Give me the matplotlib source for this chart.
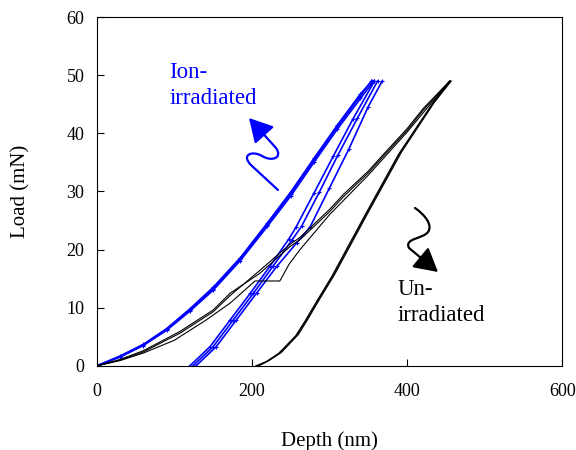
import matplotlib
matplotlib.use("Agg")
import matplotlib.pyplot as plt
from matplotlib.path import Path
from matplotlib.patches import FancyArrowPatch

plt.rcParams['font.family'] = ['Liberation Serif', 'DejaVu Serif']

# Ion-irradiated runs (depth in nm, load in mN)
ion_load_depth_1 = [0, 30, 60, 90, 120, 150, 185, 220, 250, 280, 310, 340, 354]
ion_load_1 = [0, 1.6, 3.6, 6.3, 9.6, 13.3, 18.4, 24.3, 29.6, 35.4, 41.1, 46.5, 49.0]
ion_load_depth_2 = [0, 30, 60, 90, 120, 150, 185, 220, 250, 280, 310, 340, 357]
ion_load_2 = [0, 1.5, 3.5, 6.1, 9.4, 13.0, 18.1, 24.0, 29.2, 35.0, 40.7, 46.0, 49.0]
ion_load_depth_3 = [0, 30, 60, 90, 120, 150, 185, 220, 250, 280, 310, 340, 355]
ion_load_3 = [0, 1.7, 3.7, 6.4, 9.8, 13.5, 18.6, 24.6, 29.9, 35.7, 41.4, 46.8, 49.0]

ion_unload_depth_1 = [358, 330, 305, 280, 257, 248, 223, 198, 172, 146, 120]
ion_unload_1 = [49, 42.4, 36.1, 29.7, 23.9, 21.9, 17.1, 12.5, 7.9, 3.3, 0]
ion_unload_depth_2 = [368, 350, 325, 300, 275, 258, 232, 206, 180, 154, 128]
ion_unload_2 = [49, 44.6, 37.3, 30.6, 23.9, 21.2, 17.1, 12.5, 7.9, 3.3, 0]
ion_unload_depth_3 = [362, 336, 311, 287, 264, 252, 227, 202, 176, 150, 124]
ion_unload_3 = [49, 42.6, 36.3, 29.9, 24.0, 21.7, 17.1, 12.5, 7.9, 3.3, 0]

# Un-irradiated runs
un_load_depth_1 = [0, 30, 60, 107, 150, 172, 210, 249, 262, 300, 318, 350, 369, 400, 421, 455]
un_load_1 = [0, 1.1, 2.6, 5.9, 9.6, 12.5, 15.9, 20.5, 21.7, 26.5, 29.1, 33.2, 36.0, 40.5, 44.0, 49.0]
un_load_depth_2 = [0, 30, 60, 100, 140, 172, 204, 236, 248, 262, 300, 350, 400, 455]
un_load_2 = [0, 0.9, 2.2, 4.4, 7.8, 10.8, 14.6, 14.6, 17.5, 20.0, 26.0, 32.8, 40.2, 49.0]
un_load_depth_3 = [0, 30, 60, 107, 150, 172, 210, 249, 262, 300, 318, 350, 369, 400, 421, 455]
un_load_3 = [0, 1.0, 2.4, 5.6, 9.3, 12.1, 16.4, 20.9, 22.1, 26.9, 29.5, 33.5, 36.3, 40.8, 44.3, 49.0]

un_unload_depth_1 = [456, 434, 391, 348, 305, 285, 270, 258, 236, 220, 207]
un_unload_1 = [49, 45.2, 36.6, 26.2, 15.6, 11.2, 7.8, 5.3, 2.2, 0.8, 0]
un_unload_depth_2 = [455, 432, 389, 346, 303, 283, 268, 256, 234, 218, 205]
un_unload_2 = [49, 45.0, 36.4, 26.0, 15.4, 11.0, 7.6, 5.1, 2.1, 0.7, 0]
un_unload_depth_3 = [457, 435, 393, 350, 307, 287, 272, 260, 238, 222, 209]
un_unload_3 = [49, 45.3, 36.8, 26.4, 15.8, 11.4, 8.0, 5.4, 2.3, 0.9, 0]

fig = plt.figure(figsize=(5.76, 4.5), dpi=100)
ax = fig.add_axes([0.168, 0.187, 0.808, 0.775])

blue = '#0000ff'
for d, p in [(ion_load_depth_1, ion_load_1), (ion_load_depth_2, ion_load_2),
             (ion_load_depth_3, ion_load_3), (ion_unload_depth_1, ion_unload_1),
             (ion_unload_depth_2, ion_unload_2), (ion_unload_depth_3, ion_unload_3)]:
    ax.plot(d, p, color=blue, lw=1.2, marker='+', ms=2.5, mew=0.8)

for d, p in [(un_load_depth_1, un_load_1), (un_load_depth_2, un_load_2),
             (un_load_depth_3, un_load_3), (un_unload_depth_1, un_unload_1),
             (un_unload_depth_2, un_unload_2), (un_unload_depth_3, un_unload_3)]:
    ax.plot(d, p, color='black', lw=0.8)

ax.set_xlim(0, 600)
ax.set_ylim(0, 60)
ax.set_xticks([0, 200, 400, 600])
ax.set_yticks([0, 10, 20, 30, 40, 50, 60])
ax.tick_params(direction='in', length=5, labelsize=13)
ax.tick_params(axis='x', pad=12)
ax.tick_params(axis='y', pad=9)
ax.set_xlabel('Depth (nm)', fontsize=15, labelpad=23)
ax.set_ylabel('Load (mN)', fontsize=15, labelpad=26)

ax.text(0.156, 0.871, 'Ion-\nirradiated', transform=ax.transAxes, color=blue,
        fontsize=16.5, va='top', ha='left', linespacing=1.3)
ax.text(0.646, 0.248, 'Un-\nirradiated', transform=ax.transAxes, color='black',
        fontsize=16.5, va='top', ha='left', linespacing=1.3)

# squiggly arrows, drawn in figure pixel positions (y measured from the top)
def px(x, y):
    return (x / 100.0, (450 - y) / 100.0)

blue_path = Path([px(278, 190), px(252, 166),
                  px(240, 155), px(252, 150), px(262, 156),
                  px(272, 162), px(283, 158), px(276, 148),
                  px(249, 118)],
                 [Path.MOVETO, Path.LINETO,
                  Path.CURVE4, Path.CURVE4, Path.CURVE4,
                  Path.CURVE4, Path.CURVE4, Path.CURVE4,
                  Path.LINETO])
fig.patches.append(FancyArrowPatch(path=blue_path, arrowstyle='-|>,head_length=0.9,head_width=0.5',
                                   mutation_scale=16, color=blue, lw=1.6,
                                   transform=fig.dpi_scale_trans))

black_path = Path([px(415, 208),
                   px(425, 215), px(433, 225), px(428, 232),
                   px(423, 239), px(404, 238), px(409, 248),
                   px(438, 272)],
                  [Path.MOVETO,
                   Path.CURVE4, Path.CURVE4, Path.CURVE4,
                   Path.CURVE4, Path.CURVE4, Path.CURVE4,
                   Path.LINETO])
fig.patches.append(FancyArrowPatch(path=black_path, arrowstyle='-|>,head_length=0.9,head_width=0.5',
                                   mutation_scale=16, color='black', lw=1.6,
                                   transform=fig.dpi_scale_trans))

fig.savefig('out.png', dpi=100)
